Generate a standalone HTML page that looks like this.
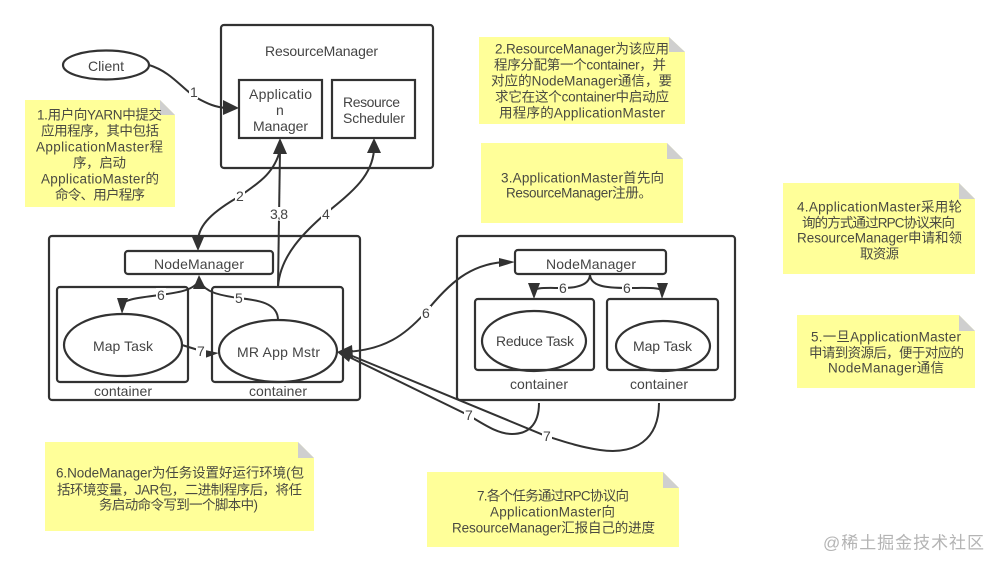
<!DOCTYPE html>
<html>
<head>
<meta charset="utf-8">
<style>
html,body{margin:0;padding:0;background:#fff;width:1000px;height:571px;overflow:hidden}
svg{display:block;filter:blur(0.3px)}
text{font-family:"Liberation Sans","Noto Sans CJK SC",sans-serif;font-size:14px;fill:#444;dominant-baseline:central}
.n text,text.n{fill:#4a4a42;font-size:13.5px}
.b{fill:none;stroke:#323232;stroke-width:2.2}
.c{fill:none;stroke:#323232;stroke-width:2}
.h{fill:#323232;stroke:none}
.note{fill:#ffff99}
.fold{fill:#cfcfcf}
text.wm{fill:#b4b4b4;font-size:17px}
</style>
</head>
<body>
<svg width="1000" height="571" viewBox="0 0 1000 571" xmlns="http://www.w3.org/2000/svg">
<rect width="1000" height="571" fill="#fff"/>

<!-- notes -->
<path class="note" d="M25,100H160L175,115V207H25Z"/><path class="fold" d="M160,100L175,115H160Z"/>
<path class="note" d="M479,37H669L685,52V124H479Z"/><path class="fold" d="M669,37L685,52H669Z"/>
<path class="note" d="M481,143H667L683,159V223H481Z"/><path class="fold" d="M667,143L683,159H667Z"/>
<path class="note" d="M783,183H959L975,199V274H783Z"/><path class="fold" d="M959,183L975,199H959Z"/>
<path class="note" d="M797,315H959L975,331V388H797Z"/><path class="fold" d="M959,315L975,331H959Z"/>
<path class="note" d="M45,442H298L314,458V531H45Z"/><path class="fold" d="M298,442L314,458H298Z"/>
<path class="note" d="M427,472H663L679,488V547H427Z"/><path class="fold" d="M663,472L679,488H663Z"/>

<g class="n">
<text x="37" y="115" textLength="125">1.用户向YARN中提交</text>
<text x="41" y="131" textLength="118">应用程序，其中包括</text>
<text x="36" y="147" textLength="127">ApplicationMaster程</text>
<text x="73" y="163" textLength="53">序，启动</text>
<text x="41" y="179" textLength="118">ApplicatioMaster的</text>
<text x="55" y="195" textLength="90">命令、用户程序</text>

<text x="495" y="49" textLength="174">2.ResourceManager为该应用</text>
<text x="494" y="65" textLength="172">程序分配第一个container，并</text>
<text x="491" y="81" textLength="181">对应的NodeManager通信，要</text>
<text x="495" y="97" textLength="174">求它在这个container中启动应</text>
<text x="499" y="113" textLength="166">用程序的ApplicationMaster</text>

<text x="501" y="178" textLength="163">3.ApplicationMaster首先向</text>
<text x="506" y="193" textLength="146">ResourceManager注册。</text>

<text x="797" y="207" textLength="165">4.ApplicationMaster采用轮</text>
<text x="802" y="223" textLength="153">询的方式通过RPC协议来向</text>
<text x="797" y="238" textLength="165">ResourceManager申请和领</text>
<text x="860" y="254" textLength="39">取资源</text>

<text x="811" y="337" textLength="150">5.一旦ApplicationMaster</text>
<text x="809" y="353" textLength="155">申请到资源后，便于对应的</text>
<text x="828" y="368" textLength="116">NodeManager通信</text>

<text x="56" y="473" textLength="248">6.NodeManager为任务设置好运行环境(包</text>
<text x="57" y="490" textLength="245">括环境变量，JAR包，二进制程序后，将任</text>
<text x="99" y="505" textLength="159">务启动命令写到一个脚本中)</text>

<text x="477" y="496" textLength="152">7.各个任务通过RPC协议向</text>
<text x="490" y="512" textLength="125">ApplicationMaster向</text>
<text x="452" y="528" textLength="203">ResourceManager汇报自己的进度</text>
</g>

<!-- shapes -->
<rect class="b" x="221" y="25" width="212" height="143" rx="3"/>
<ellipse class="b" cx="106" cy="65" rx="43" ry="14.5"/>
<rect class="b" x="239" y="80" width="83" height="58"/>
<rect class="b" x="332" y="80" width="83" height="58"/>

<rect class="b" x="49" y="236" width="311" height="164" rx="3"/>
<rect class="b" x="125" y="251" width="148" height="23" rx="3"/>
<rect class="b" x="57" y="287" width="131" height="95" rx="3"/>
<rect class="b" x="212" y="287" width="131" height="95" rx="3"/>
<ellipse class="b" cx="123" cy="345" rx="59" ry="31"/>
<ellipse class="b" cx="278" cy="351" rx="59" ry="31"/>

<rect class="b" x="457" y="236" width="278" height="164" rx="3"/>
<rect class="b" x="515" y="250" width="151" height="24" rx="3"/>
<rect class="b" x="475" y="299" width="119" height="71" rx="3"/>
<rect class="b" x="607" y="299" width="111" height="71" rx="3"/>
<ellipse class="b" cx="534" cy="341" rx="52" ry="30"/>
<ellipse class="b" cx="663" cy="346" rx="47" ry="25"/>

<!-- connectors -->
<path class="c" d="M149,65C172,72 183,90 197,98C208,104 215,107 226,108"/>
<path class="c" d="M280,150C274,175 255,185 240,196C212,212 199,225 198,240"/>
<path class="c" d="M278,287L280,150"/>
<path class="c" d="M278,287C280,255 305,232 325,214C355,190 372,175 374,150"/>
<path class="c" d="M278,320C278,303 258,300 238,298C218,295 206,292 200,282"/>
<path class="c" d="M198,282C192,291 175,293 160,295C135,298 122,300 122,306"/>
<path class="c" d="M182,345L208,353"/>
<path class="c" d="M345,352C385,350 405,335 425,313C450,282 470,265 503,262"/>
<path class="c" d="M590,274C590,286 575,288 562,288C545,288 534,287 534,292"/>
<path class="c" d="M590,274C590,286 605,288 627,288C650,288 662,287 662,292"/>
<path class="c" d="M539,403C539,426 527,434 512,434C497,434 482,423 468,415L345,355"/>
<path class="c" d="M659,403C659,440 635,455 600,450C580,447 565,442 546,436L345,353"/>

<!-- arrowheads -->
<polygon class="h" points="239,108 223,100 223,115"/>
<polygon class="h" points="280,138 273,154 287,154"/>
<polygon class="h" points="374,138 367,153 381,153"/>
<polygon class="h" points="198,251 192,237 204,237"/>
<polygon class="h" points="199,275 193,289 206,289"/>
<polygon class="h" points="122,314 117,298 128,298"/>
<polygon class="h" points="219,353 205,350 205,358"/>
<polygon class="h" points="515,262 499,258 499,267"/>
<polygon class="h" points="534,299 528,283 540,283"/>
<polygon class="h" points="662,299 657,283 668,283"/>
<polygon class="h" points="337,352 352,345 353,358"/>
<polygon class="h" points="337,352 353,350 349,362"/>

<!-- connector labels -->
<rect x="189" y="85" width="9" height="14" fill="#fff"/><text x="190" y="92" textLength="7">1</text>
<rect x="235" y="189" width="10" height="14" fill="#fff"/><text x="236" y="196" textLength="8">2</text>
<rect x="269" y="207" width="20" height="14" fill="#fff"/><text x="270" y="214" textLength="18">3,8</text>
<rect x="321" y="207" width="10" height="14" fill="#fff"/><text x="322" y="214" textLength="8">4</text>
<rect x="156" y="288" width="10" height="14" fill="#fff"/><text x="157" y="295" textLength="8">6</text>
<rect x="234" y="291" width="10" height="14" fill="#fff"/><text x="235" y="298" textLength="8">5</text>
<rect x="196" y="344" width="10" height="14" fill="#fff"/><text x="197" y="351" textLength="8">7</text>
<rect x="421" y="306" width="10" height="14" fill="#fff"/><text x="422" y="313" textLength="8">6</text>
<rect x="558" y="281" width="10" height="14" fill="#fff"/><text x="559" y="288" textLength="8">6</text>
<rect x="622" y="281" width="10" height="14" fill="#fff"/><text x="623" y="288" textLength="8">6</text>
<rect x="464" y="408" width="10" height="14" fill="#fff"/><text x="465" y="415" textLength="8">7</text>
<rect x="542" y="429" width="10" height="14" fill="#fff"/><text x="543" y="436" textLength="8">7</text>

<!-- node labels -->
<text x="265" y="51" textLength="113">ResourceManager</text>
<text x="88" y="66" textLength="36">Client</text>
<text x="249" y="94" textLength="63">Applicatio</text>
<text x="276" y="110" textLength="6">n</text>
<text x="253" y="126" textLength="55">Manager</text>
<text x="343" y="102" textLength="57">Resource</text>
<text x="343" y="118" textLength="62">Scheduler</text>
<text x="154" y="264" textLength="90">NodeManager</text>
<text x="93" y="346" textLength="60">Map Task</text>
<text x="237" y="352" textLength="83">MR App Mstr</text>
<text x="94" y="391" textLength="58">container</text>
<text x="249" y="391" textLength="58">container</text>
<text x="546" y="264" textLength="90">NodeManager</text>
<text x="496" y="341" textLength="78">Reduce Task</text>
<text x="633" y="346" textLength="59">Map Task</text>
<text x="510" y="384" textLength="58">container</text>
<text x="630" y="384" textLength="58">container</text>

<!-- watermark -->
<text class="wm" x="823" y="543" textLength="161">@稀土掘金技术社区</text>
</svg>
</body>
</html>
